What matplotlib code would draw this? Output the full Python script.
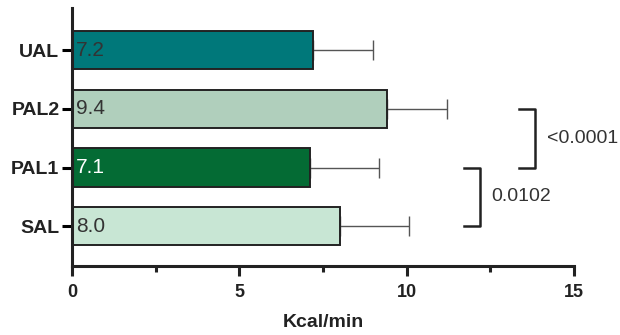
import matplotlib.pyplot as plt
from matplotlib.ticker import MultipleLocator

plt.rcParams['font.family'] = ['Liberation Sans', 'DejaVu Sans']

# groups from bottom to top
groups = ['SAL', 'PAL1', 'PAL2', 'UAL']
means = [8.0, 7.1, 9.4, 7.2]
sd = [2.06, 2.07, 1.8, 1.78]
colors = ['#C8E6D4', '#046B34', '#B0CFBC', '#00787A']
label_colors = ['#333333', 'white', '#333333', '#333333']

# pairwise comparisons: (lower index, upper index, p-value text)
comparisons = [(0, 1, '0.0102'), (1, 2, '<0.0001')]
bracket_x = [11.7, 13.35]


def main():
    fig = plt.figure(figsize=(6.2, 3.35), dpi=100)
    ax = fig.add_axes([0.116, 0.206, 0.81, 0.77])

    ypos = list(range(len(groups)))
    ax.barh(ypos, means, height=0.65, color=colors, edgecolor='#222222',
            linewidth=1.4, zorder=2)
    ax.errorbar(means, ypos, xerr=[[0] * len(sd), sd], fmt='none',
                ecolor='#555555', elinewidth=1.0, capsize=7, capthick=1.0,
                zorder=1)

    for y, m, c in zip(ypos, means, label_colors):
        ax.text(0.12, y, f'{m:.1f}', color=c, fontsize=15,
                ha='left', va='center', zorder=3)

    # significance brackets
    for (lo, hi, p), bx in zip(comparisons, bracket_x):
        w = 0.48
        ax.plot([bx, bx + w, bx + w, bx], [lo, lo, hi, hi], color='#222222',
                lw=1.8, clip_on=False)
        ax.text(bx + w + 0.35, (lo + hi) / 2, p, fontsize=14, color='#333333',
                ha='left', va='center', clip_on=False)

    ax.set_xlim(0, 15)
    ax.set_ylim(-0.68, 3.72)
    ax.set_yticks(ypos)
    ax.set_yticklabels(groups, fontsize=14, fontweight='bold', color='#222222')
    ax.xaxis.set_major_locator(MultipleLocator(5))
    ax.xaxis.set_minor_locator(MultipleLocator(2.5))
    for lbl in ax.get_xticklabels():
        lbl.set_fontweight('bold')
    ax.tick_params(axis='x', which='major', length=7, width=2.2, labelsize=13,
                   colors='#222222', pad=6)
    ax.tick_params(axis='x', which='minor', length=4, width=2.2, colors='#222222')
    ax.tick_params(axis='y', length=7, width=2.2, pad=2)
    ax.set_xlabel('Kcal/min', fontsize=14, fontweight='bold', color='#222222',
                  labelpad=9)

    for side in ['top', 'right']:
        ax.spines[side].set_visible(False)
    for side in ['left', 'bottom']:
        ax.spines[side].set_linewidth(2.2)
        ax.spines[side].set_color('#222222')

    fig.savefig('out.png', dpi=100)


if __name__ == '__main__':
    main()
